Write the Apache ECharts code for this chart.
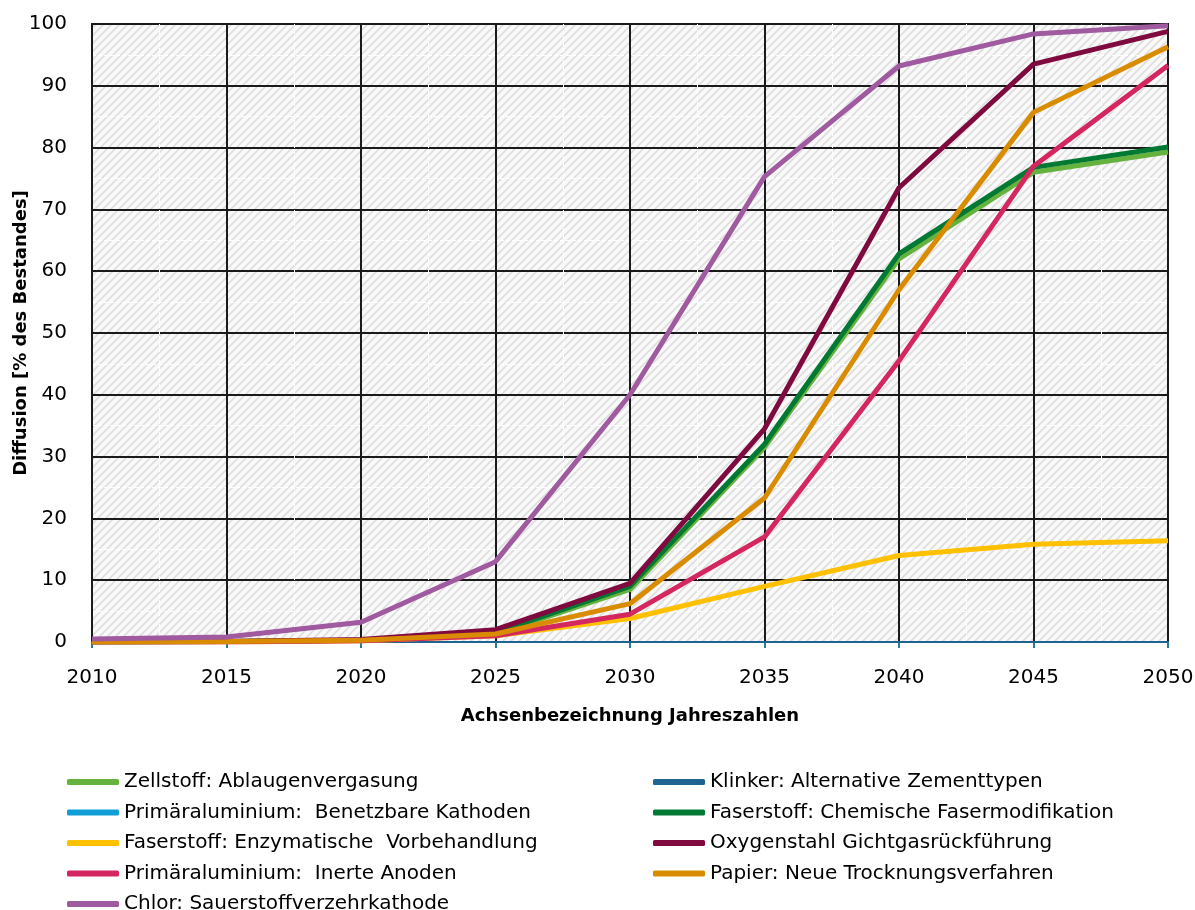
<!DOCTYPE html>
<html><head><meta charset="utf-8">
<script src="https://cdn.jsdelivr.net/npm/echarts@6/dist/echarts.min.js"></script>
<style>html,body{margin:0;padding:0;background:#fff}#c{width:1195px;height:910px}</style>
</head><body><div id="c"></div>
<script>
const years = [2010, 2015, 2020, 2025, 2030, 2035, 2040, 2045, 2050];
const zellstoff = [0, 0.1, 0.3, 1.3, 8.5, 31.5, 62, 76, 79.3];
const klinker = [0, 0, 0, 0, 0, 0, 0, 0, 0];
const benetzbar = [0, 0, 0, 0, 0, 0, 0, 0, 0];
const chemisch = [0, 0.1, 0.3, 1.5, 9, 32, 62.8, 76.8, 80.1];
const enzymatisch = [0, 0, 0.2, 1, 3.8, 9, 14, 15.8, 16.4];
const oxygen = [0, 0.1, 0.4, 2, 9.5, 34.5, 73.5, 93.5, 98.8];
const inert = [0, 0, 0.2, 1, 4.5, 17, 45.5, 77, 93.3];
const papier = [0, 0.1, 0.3, 1.3, 6.2, 23.3, 57, 85.7, 96.3];
const chlor = [0.5, 0.8, 3.2, 13, 40, 75.3, 93.2, 98.4, 99.7];

const names = ['Zellstoff: Ablaugenvergasung','Klinker: Alternative Zementtypen','Primäraluminium:  Benetzbare Kathoden','Faserstoff: Chemische Fasermodifikation','Faserstoff: Enzymatische  Vorbehandlung','Oxygenstahl Gichtgasrückführung','Primäraluminium:  Inerte Anoden','Papier: Neue Trocknungsverfahren','Chlor: Sauerstoffverzehrkathode'];
const values = [zellstoff, klinker, benetzbar, chemisch, enzymatisch, oxygen, inert, papier, chlor];
const colors = ['#66b23e','#1f6391','#0f9ed5','#007a33','#ffc000','#7f0a3f','#d4275f','#d98c00','#a05a9f'];
const widths = [5, 2, 2, 5, 5, 5, 5, 5, 5];
const zs = [3, 2.5, 2.2, 4, 5, 6, 7, 8, 9];

// hatch pattern
const pc = document.createElement('canvas');
pc.width = 8; pc.height = 8;
const pctx = pc.getContext('2d');
pctx.fillStyle = '#f9f9f9'; pctx.fillRect(0,0,8,8);
pctx.strokeStyle = '#dedede'; pctx.lineWidth = 1.6;
pctx.beginPath();
pctx.moveTo(-2,10); pctx.lineTo(10,-2);
pctx.moveTo(-6,6); pctx.lineTo(6,-6);
pctx.moveTo(2,14); pctx.lineTo(14,2);
pctx.stroke();

const font = '"DejaVu Sans", sans-serif';
const series = names.map((n,i)=>({
  name:n, type:'line', data: years.map((y,j)=>[y, values[i][j]]),
  symbol:'none', lineStyle:{width:widths[i], color:colors[i]}, itemStyle:{color:colors[i]},
  z: zs[i]
}));

const legendCommon = {orient:'vertical', top:767, itemWidth:52, itemHeight:6, itemGap:10.5, icon:'roundRect', height:200,
  textStyle:{fontFamily:font, fontSize:20, color:'#000', lineHeight:20}};

const chart = echarts.init(document.getElementById('c'));
chart.setOption({
  animation:false,
  grid:{left:92, right:27, top:24, bottom:268, show:true, outerBoundsMode:'none', containLabel:false,
    backgroundColor:{image:pc, repeat:'repeat'}, borderColor:'#1a1a1a', borderWidth:2},
  xAxis:{type:'value', min:2010, max:2050, interval:5,
    name:'Achsenbezeichnung Jahreszahlen', nameLocation:'middle', nameGap:65, nameMoveOverlap:false,
    nameTextStyle:{fontFamily:font, fontSize:18, fontWeight:'bold', color:'#000'},
    axisLine:{lineStyle:{color:'#2a7aa0', width:2}}, axisTick:{show:true, length:6, lineStyle:{color:'#2a7aa0', width:2}},
    axisLabel:{fontFamily:font, fontSize:20, color:'#000', margin:26, formatter:v=>String(v)},
    splitLine:{lineStyle:{color:'#1a1a1a', width:2}},
    minorTick:{show:false, splitNumber:2}, minorSplitLine:{show:true, lineStyle:{color:'#ffffff', width:1, type:'dashed'}}
  },
  yAxis:{type:'value', min:0, max:100, interval:10,
    name:'Diffusion [% des Bestandes]', nameLocation:'middle', nameGap:62, nameMoveOverlap:false,
    nameTextStyle:{fontFamily:font, fontSize:18, fontWeight:'bold', color:'#000'},
    axisLine:{show:false}, axisTick:{show:false},
    axisLabel:{fontFamily:font, fontSize:20, color:'#000', margin:25},
    splitLine:{lineStyle:{color:'#1a1a1a', width:2}},
    minorTick:{show:false, splitNumber:2}, minorSplitLine:{show:true, lineStyle:{color:'#ffffff', width:1, type:'dashed'}}
  },
  legend:[
    Object.assign({left:62, data:[names[0],names[2],names[4],names[6],names[8]]}, legendCommon),
    Object.assign({left:648, data:[names[1],names[3],names[5],names[7]]}, legendCommon)
  ],
  series: series
});
</script></body></html>
